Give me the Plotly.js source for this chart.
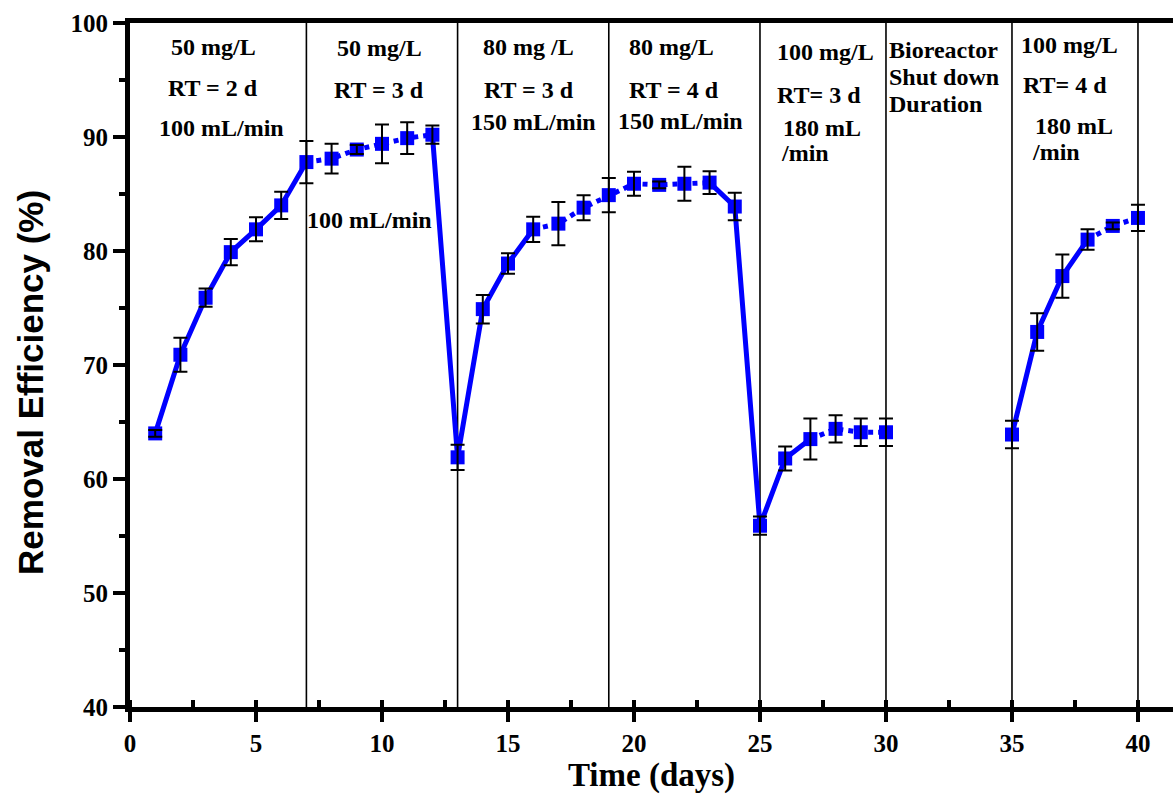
<!DOCTYPE html>
<html>
<head>
<meta charset="utf-8">
<script src="https://cdn.plot.ly/plotly-3.0.1.min.js"></script>
<style>
  html, body { margin: 0; padding: 0; background: #ffffff; }
  #chart { width: 1173px; height: 794px; }
</style>
</head>
<body>
<div id="chart"></div>
<script>
// ---- data ----
const days = [1, 2, 3, 4, 5, 6, 7, 8, 9, 10, 11, 12, 13,
              14, 15, 16, 17, 18, 19, 20, 21, 22, 23, 24, 25,
              26, 27, 28, 29, 30,
              35, 36, 37, 38, 39, 40];
const removalEfficiency = [64.0, 70.9, 75.9, 79.9, 81.9, 84.0, 87.8, 88.1, 88.9, 89.4, 89.9, 90.2, 61.9,
                           74.9, 78.9, 81.9, 82.4, 83.8, 84.9, 85.9, 85.8, 85.9, 86.0, 83.9, 55.9,
                           61.8, 63.5, 64.4, 64.1, 64.1,
                           63.9, 72.9, 77.8, 81.0, 82.2, 82.9];
const errorSD = [0.3, 1.5, 0.8, 1.15, 1.05, 1.2, 1.85, 1.3, 0.4, 1.7, 1.4, 0.8, 1.1,
                 1.25, 0.9, 1.1, 1.9, 1.1, 1.5, 1.05, 0.3, 1.5, 1.0, 1.2, 0.8,
                 1.05, 1.8, 1.2, 1.2, 1.2,
                 1.2, 1.65, 1.9, 0.9, 0.3, 1.15];
const phaseBoundaries = [7, 13, 19, 25, 30, 35, 40];
const xTickValues = [0, 5, 10, 15, 20, 25, 30, 35, 40];
const yTickValues = [40, 50, 60, 70, 80, 90, 100];
const xTitle = 'Time (days)';
const yTitle = 'Removal Efficiency (%)';

// phase descriptions (text only)
const phaseTexts = [
  "50 mg/L", "RT = 2 d", "100 mL/min",
  "50 mg/L", "RT = 3 d", "100 mL/min",
  "80 mg /L", "RT = 3 d", "150 mL/min",
  "80 mg/L", "RT = 4 d", "150 mL/min",
  "100 mg/L", "RT= 3 d", "180 mL", "/min",
  "Bioreactor", "Shut down", "Duration",
  "100 mg/L", "RT= 4 d", "180 mL", "/min"
];

// ---- styling / layout ----
const BLUE = 'rgb(0,0,255)';
const serif = 'Liberation Serif, Times New Roman, serif';
const sans = 'Liberation Sans, Arial, sans-serif';

// which day-ranges are drawn with solid vs dotted connecting lines
const solidSpans = [[1, 7], [12, 16], [23, 27], [35, 38]];
const dottedSpans = [[7, 12], [16, 23], [27, 30], [38, 40]];

function spanTrace(spans, dash) {
  const xs = [], ys = [];
  spans.forEach(([a, b]) => {
    days.forEach((d, i) => {
      if (d >= a && d <= b) { xs.push(d); ys.push(removalEfficiency[i]); }
    });
    xs.push(null); ys.push(null);
  });
  return {
    x: xs, y: ys, type: 'scatter', mode: 'lines',
    line: { color: BLUE, width: 5, dash: dash },
    connectgaps: false, hoverinfo: 'skip', showlegend: false
  };
}

const traces = [
  spanTrace(solidSpans, 'solid'),
  spanTrace(dottedSpans, 'dot'),
  {
    x: days, y: removalEfficiency, type: 'scatter', mode: 'markers',
    marker: { symbol: 'square', size: 14, color: BLUE },
    showlegend: false
  },
  {
    x: days, y: removalEfficiency, type: 'scatter', mode: 'markers',
    marker: { size: 1, color: 'rgba(0,0,0,0)' },
    error_y: { type: 'data', array: errorSD, visible: true, color: '#000000', thickness: 2, width: 7 },
    showlegend: false, hoverinfo: 'skip'
  }
];

// annotation placement (data coordinates) for each phase text, in order
const annPlacement = [
  [3.3, 97.9, 'center'], [3.3, 94.3, 'center'], [3.65, 90.8, 'center'],
  [9.9, 97.8, 'center'], [9.9, 94.1, 'center'], [9.5, 82.7, 'center'],
  [15.8, 97.9, 'center'], [15.85, 94.1, 'center'], [16.0, 91.3, 'center'],
  [21.5, 97.9, 'center'], [21.6, 94.1, 'center'], [21.85, 91.4, 'center'],
  [27.6, 97.5, 'center'], [27.35, 93.7, 'center'], [25.85, 90.8, 'left'], [25.75, 88.6, 'left'],
  [30.05, 97.6, 'left'], [30.05, 95.25, 'left'], [30.05, 92.9, 'left'],
  [37.3, 98.1, 'center'], [37.1, 94.6, 'center'], [35.85, 91.0, 'left'], [35.7, 88.7, 'left']
];

const annotations = phaseTexts.map((t, i) => ({
  x: annPlacement[i][0], y: annPlacement[i][1], xref: 'x', yref: 'y',
  text: t, showarrow: false,
  xanchor: annPlacement[i][2], yanchor: 'middle',
  font: { family: serif, size: 24, color: '#000000', weight: 'bold' }
}));

// y-axis title as a rotated annotation to match its position
annotations.push({
  xref: 'paper', yref: 'paper', x: -0.096, y: 0.475,
  xanchor: 'center', yanchor: 'middle', textangle: -90,
  text: yTitle, showarrow: false,
  font: { family: sans, size: 35, color: '#000000', weight: 'bold' }
});

const shapes = phaseBoundaries.map(b => ({
  type: 'line', xref: 'x', yref: 'y', x0: b, x1: b, y0: 40, y1: 100,
  line: { color: '#000000', width: 1.6 }, layer: 'below'
}));

const layout = {
  width: 1173, height: 794,
  margin: { l: 130, r: 0, t: 23, b: 87, pad: 0 },
  paper_bgcolor: '#ffffff', plot_bgcolor: '#ffffff',
  showlegend: false,
  xaxis: {
    range: [0, 41.39], tickvals: xTickValues, ticktext: xTickValues.map(String),
    showgrid: false, zeroline: false,
    showline: true, linecolor: '#000000', linewidth: 5, mirror: true,
    ticks: 'outside', ticklen: 10, tickwidth: 4, tickcolor: '#000000',
    minor: { dtick: 2.5, tick0: 0, ticks: 'inside', ticklen: 7, tickwidth: 4, tickcolor: '#000000', showgrid: false },
    tickfont: { family: serif, size: 25, color: '#000000', weight: 'bold' },
    title: { text: xTitle, font: { family: serif, size: 33, color: '#000000', weight: 'bold' }, standoff: 2 }
  },
  yaxis: {
    range: [40, 100], tickvals: yTickValues, ticktext: yTickValues.map(String),
    showgrid: false, zeroline: false,
    showline: true, linecolor: '#000000', linewidth: 5, mirror: false,
    ticks: 'outside', ticklen: 12, tickwidth: 4, tickcolor: '#000000',
    minor: { dtick: 5, tick0: 40, ticks: 'outside', ticklen: 6, tickwidth: 4, tickcolor: '#000000', showgrid: false },
    tickfont: { family: serif, size: 25, color: '#000000', weight: 'bold' }
  },
  annotations: annotations,
  shapes: shapes
};

Plotly.newPlot('chart', traces, layout, { displayModeBar: false, staticPlot: true });
</script>
</body>
</html>
